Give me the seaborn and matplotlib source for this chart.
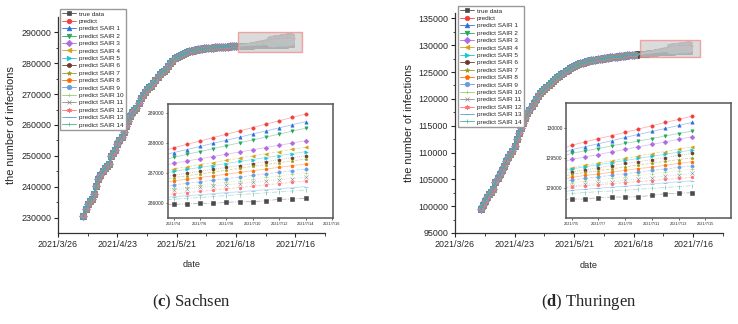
import numpy as np
import pandas as pd
import seaborn as sns
import matplotlib.pyplot as plt
import matplotlib.dates as mdates
from matplotlib.lines import Line2D
from matplotlib.patches import Rectangle

# ---- DATA -------------------------------------------------------------
dates = pd.date_range("2021-04-07", "2021-07-14")
shared_until = pd.Timestamp("2021-06-18")   # predictions follow the fit up to here

true_sachsen = [
    230600, 232800, 234300, 235400, 236100, 237600, 240200, 242500, 243900, 245000,
    246000, 246600, 247400, 249800, 251000, 252000, 253800, 255200, 256000, 257600,
    259700, 261300, 262800, 264100,
    264900, 265500, 267200, 268800, 269700, 270800, 271600, 272200, 272600, 273500,
    274600, 275600, 276500, 277100, 277500, 278200, 279000, 280000, 280900, 281600,
    282000, 282300, 282600, 282900, 283200, 283600, 283900, 284100, 284200, 284300,
    284500,
    284600, 284700, 284800, 284900, 284950, 285000, 285050, 285150, 285200, 285250,
    285300, 285330, 285360, 285400, 285450, 285500, 285530, 285560, 285590, 285610,
    285640, 285680, 285710, 285740, 285760, 285780, 285800, 285830, 285850, 285880,
    285900, 285920, 285940, 285957, 285965, 285990, 285990, 286023, 286043, 286043,
    286077, 286123, 286133, 286157,
]
true_thuringen = [
    99400, 100300, 101000, 101700, 102300, 102700, 103200, 104500, 105300, 106000,
    106800, 107500, 108400, 109200, 109800, 110300, 111300, 112500, 113600, 114500,
    115500, 116500, 117300, 117900,
    118600, 119200, 119900, 120500, 121000, 121400, 121800, 122200, 122500, 122900,
    123300, 123700, 124000, 124300, 124600, 124800, 125100, 125400, 125700, 125900,
    126100, 126300, 126500, 126600, 126700, 126850, 127000, 127100, 127200, 127250,
    127300,
    127350, 127420, 127500, 127560, 127620, 127680, 127730, 127780, 127830, 127880,
    127930, 127970, 128010, 128050, 128090, 128130, 128170, 128210, 128250, 128290,
    128330, 128370, 128410, 128450, 128490, 128530, 128560, 128600, 128640, 128670,
    128710, 128740, 128770, 128800, 128817, 128817, 128840, 128850, 128850, 128855,
    128878, 128905, 128912, 128922,
]

tail_dates_sachsen = pd.date_range("2021-07-04", "2021-07-14")
tail_dates_thuringen = pd.date_range("2021-07-05", "2021-07-14")

# predict, predict SAIR 1 ... predict SAIR 14
pred_sachsen = [
    [287840, 287955, 288065, 288180, 288290, 288405, 288515, 288630, 288740, 288855, 288965],
    [287680, 287780, 287885, 287990, 288090, 288195, 288300, 288400, 288505, 288610, 288710],
    [287520, 287620, 287715, 287810, 287910, 288005, 288100, 288200, 288295, 288395, 288490],
    [287325, 287400, 287475, 287550, 287625, 287700, 287775, 287850, 287925, 288000, 288075],
    [287135, 287205, 287280, 287350, 287425, 287495, 287570, 287640, 287715, 287785, 287855],
    [287055, 287120, 287185, 287250, 287315, 287385, 287450, 287515, 287580, 287645, 287710],
    [286925, 286990, 287055, 287120, 287185, 287250, 287315, 287380, 287445, 287510, 287575],
    [286845, 286905, 286970, 287030, 287095, 287155, 287220, 287280, 287345, 287405, 287465],
    [286735, 286790, 286850, 286905, 286960, 287020, 287075, 287130, 287190, 287245, 287300],
    [286600, 286655, 286705, 286760, 286815, 286865, 286920, 286975, 287025, 287080, 287135],
    [286490, 286540, 286595, 286645, 286700, 286750, 286800, 286855, 286905, 286960, 287010],
    [286435, 286475, 286520, 286560, 286605, 286645, 286690, 286730, 286775, 286815, 286855],
    [286300, 286345, 286385, 286430, 286475, 286515, 286560, 286605, 286645, 286690, 286735],
    [286210, 286245, 286275, 286310, 286345, 286375, 286410, 286445, 286475, 286510, 286545],
    [286125, 286155, 286185, 286215, 286250, 286280, 286310, 286340, 286370, 286400, 286435],
]
pred_thuringen = [
    [129715, 129770, 129825, 129875, 129930, 129985, 130040, 130095, 130145, 130200],
    [129640, 129690, 129740, 129790, 129845, 129895, 129945, 129995, 130045, 130095],
    [129580, 129620, 129660, 129705, 129745, 129785, 129825, 129870, 129910, 129950],
    [129480, 129520, 129560, 129605, 129645, 129690, 129730, 129770, 129815, 129855],
    [129340, 129380, 129420, 129455, 129495, 129535, 129575, 129610, 129650, 129690],
    [129320, 129355, 129390, 129425, 129460, 129495, 129530, 129565, 129600, 129635],
    [129270, 129305, 129340, 129375, 129410, 129440, 129475, 129510, 129545, 129580],
    [129230, 129260, 129290, 129320, 129355, 129385, 129415, 129445, 129475, 129505],
    [129180, 129210, 129235, 129265, 129295, 129325, 129350, 129380, 129410, 129440],
    [129135, 129160, 129185, 129215, 129240, 129265, 129295, 129320, 129345, 129370],
    [129090, 129115, 129140, 129165, 129190, 129215, 129240, 129265, 129290, 129315],
    [129035, 129060, 129080, 129105, 129130, 129150, 129175, 129200, 129220, 129245],
    [129020, 129040, 129055, 129075, 129090, 129110, 129125, 129145, 129160, 129180],
    [128960, 128980, 128995, 129015, 129030, 129050, 129070, 129085, 129105, 129120],
    [128910, 128925, 128940, 128950, 128965, 128980, 128995, 129010, 129025, 129040],
]

series_names = ["true data", "predict"] + [f"predict SAIR {i}" for i in range(1, 15)]
series_colors = ["#4a4a4a", "#f23d3d", "#2a6fdb", "#26a65b", "#b06ae0", "#d4a017",
                 "#17c3d4", "#6e3b2e", "#9a9a1a", "#ff6a00", "#6a9be0", "#98d070",
                 "#8c8c8c", "#ff7070", "#5a9ee0", "#48b090"]
series_markers = ["s", "o", "^", "v", "D", "<", ">", "h", "*", "p", "o", "+",
                  "x", (6, 2, 0), "_", "|"]
series_lines = ["-.", "-", "-", "-", "-", "--", "-", ":", "--", "-", "--", ":",
                ":", "--", "-", "-."]

main_xticks = ["2021-03-26", "2021-04-23", "2021-05-21", "2021-06-18", "2021-07-16"]
main_xlabels = ["2021/3/26", "2021/4/23", "2021/5/21", "2021/6/18", "2021/7/16"]
sachsen_inset_xticks = ["2021-07-04", "2021-07-06", "2021-07-08", "2021-07-10",
                        "2021-07-12", "2021-07-14", "2021-07-16"]
thuringen_inset_xticks = ["2021-07-05", "2021-07-07", "2021-07-09", "2021-07-11",
                          "2021-07-13", "2021-07-15"]

# ---- STYLE ------------------------------------------------------------
sns.set_theme(style="ticks")
plt.rcParams["font.family"] = ["Liberation Sans", "DejaVu Sans"]
plt.rcParams["mathtext.fontset"] = "custom"
plt.rcParams["mathtext.rm"] = "Liberation Serif"
plt.rcParams["mathtext.bf"] = "Liberation Serif:bold"
plt.rcParams["axes.edgecolor"] = "#333333"

fig = plt.figure(figsize=(7.38, 3.24), dpi=100)
W, H = 738, 324


def px_axes(x0, y0, x1, y1):
    return fig.add_axes([x0 / W, 1 - y1 / H, (x1 - x0) / W, (y1 - y0) / H])


def draw_series(ax, true_vals, tail_dates, preds, ms, mew, lw, line_alpha):
    early = dates <= shared_until
    early_dates = list(dates[early])
    early_vals = list(np.array(true_vals)[early])
    xs = [list(dates)] + [early_dates + list(tail_dates) for _ in preds]
    ys = [list(true_vals)] + [early_vals + list(p) for p in preds]
    for i, (x, y) in enumerate(zip(xs, ys)):
        c = series_colors[i]
        sns.lineplot(x=x, y=y, ax=ax, color=c, lw=lw, linestyle=series_lines[i],
                     alpha=line_alpha, legend=False, errorbar=None)
        sns.lineplot(x=x, y=y, ax=ax, color=c, linestyle="", marker=series_markers[i],
                     markersize=ms, markeredgecolor=c, markeredgewidth=mew,
                     legend=False, errorbar=None)


def panel(main_rect, inset_rect, true_vals, tail_dates, preds, ylim, yticks,
          ylabel_x, box, inset_xlim, inset_ylim, inset_yticks, inset_xticks,
          legend_xy, caption, caption_x):
    ax = px_axes(*main_rect)
    draw_series(ax, true_vals, tail_dates, preds, ms=4.2, mew=0.5, lw=0.8, line_alpha=0.9)
    ax.set_xlim(pd.Timestamp("2021-03-26"), pd.Timestamp("2021-07-29"))
    ax.set_ylim(*ylim)
    ax.set_xticks(pd.to_datetime(main_xticks))
    ax.set_xticklabels(main_xlabels)
    ax.set_xticks(pd.to_datetime(main_xticks) + pd.Timedelta(days=14), minor=True)
    ax.set_yticks(yticks)
    ax.set_yticks(np.array(yticks[:-1]) + (yticks[1] - yticks[0]) / 2, minor=True)
    ax.tick_params(which="major", direction="out", length=3, width=0.8, labelsize=6.4, pad=2)
    ax.tick_params(which="minor", direction="out", length=1.8, width=0.6)
    sns.despine(ax=ax)
    for s in ("left", "bottom"):
        ax.spines[s].set_linewidth(0.9)
    ax.set_ylabel("the number of infections", fontsize=7.9)
    ax.yaxis.set_label_coords(ylabel_x, 0.5)
    ax.set_xlabel("date", fontsize=6.6)
    ax.xaxis.set_label_coords(0.5, -0.125)

    x0 = mdates.date2num(pd.Timestamp(box[0]))
    x1 = mdates.date2num(pd.Timestamp(box[1]))
    ax.add_patch(Rectangle((x0, box[2]), x1 - x0, box[3] - box[2], facecolor="#cfcfcf",
                           alpha=0.75, edgecolor="#f08a8a", lw=1.0, zorder=5))

    handles = [Line2D([], [], color=series_colors[i], marker=series_markers[i],
                      linestyle="-", lw=0.6, markersize=3.3,
                      markeredgecolor=series_colors[i], markeredgewidth=0.5)
               for i in range(len(series_names))]
    ax.legend(handles, series_names, loc="upper left",
              bbox_to_anchor=(legend_xy[0] / W, 1 - legend_xy[1] / H),
              bbox_transform=fig.transFigure, fontsize=4.6, frameon=True,
              fancybox=False, edgecolor="#999999", framealpha=1, borderpad=0.35,
              handlelength=2.2, handletextpad=0.4, labelspacing=0.3, borderaxespad=0)

    ins = px_axes(*inset_rect)
    draw_series(ins, true_vals, tail_dates, preds, ms=2.4, mew=0.4, lw=0.6, line_alpha=0.4)
    ins.set_xlim(pd.Timestamp(inset_xlim[0]), pd.Timestamp(inset_xlim[1]))
    ins.set_ylim(*inset_ylim)
    ins.set_yticks(inset_yticks)
    ins.set_xticks(pd.to_datetime(inset_xticks))
    ins.set_xticklabels([pd.Timestamp(d).strftime("%Y/") + str(pd.Timestamp(d).month) + "/"
                         + str(pd.Timestamp(d).day) for d in inset_xticks])
    ins.tick_params(axis="y", labelsize=3.5, length=1.5, width=0.5, pad=1)
    ins.tick_params(axis="x", labelsize=2.8, length=1.5, width=0.5, pad=1.5)
    for s in ins.spines.values():
        s.set_linewidth(1.1)
        s.set_color("#555555")

    fig.text(caption_x / W, 1 - 302 / H, caption, ha="center", va="center",
             fontsize=12, family="Liberation Serif")


panel((58, 17, 325, 233), (168, 104, 333, 218), true_sachsen, tail_dates_sachsen,
      pred_sachsen, (225000, 295000), [230000, 240000, 250000, 260000, 270000, 280000, 290000],
      -0.157, ("2021-06-19", "2021-07-19", 283550, 290000),
      ("2021-07-03 14:00", "2021-07-16 02:00"), (285500, 289300),
      [286000, 287000, 288000, 289000], sachsen_inset_xticks, (60, 9),
      r"($\mathbf{c}$) Sachsen", 191)

panel((455, 13, 723, 233), (566, 103, 731, 218), true_thuringen, tail_dates_thuringen,
      pred_thuringen, (95000, 136000),
      [95000, 100000, 105000, 110000, 115000, 120000, 125000, 130000, 135000],
      -0.153, ("2021-06-21", "2021-07-19", 127740, 130900),
      ("2021-07-04 14:00", "2021-07-16 22:00"), (128500, 130420),
      [129000, 129500, 130000], thuringen_inset_xticks, (458, 6),
      r"($\mathbf{d}$) Thuringen", 589)

fig.savefig("out.png", dpi=100)
